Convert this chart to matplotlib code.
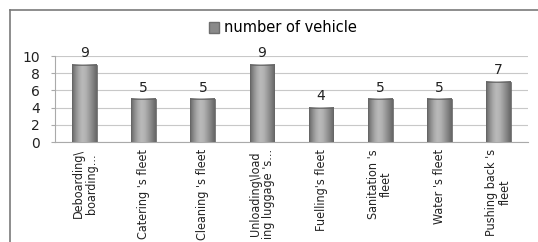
import matplotlib
matplotlib.use("Agg")
import matplotlib.pyplot as plt
import numpy as np
from matplotlib.lines import Line2D
from matplotlib.patches import Rectangle

# Chart data
categories = [
    "Deboarding\\\nboarding...",
    "Catering 's fleet",
    "Cleaning 's fleet",
    "Unloading\\load\ning luggage 's...",
    "Fuelling's fleet",
    "Sanitation 's\nfleet",
    "Water 's fleet",
    "Pushing back 's\nfleet",
]
vehicles = [9, 5, 5, 9, 4, 5, 5, 7]
y_ticks = [0, 2, 4, 6, 8, 10]
series_name = "number of vehicle"

fig = plt.figure(figsize=(5.38, 2.42), dpi=100)
ax = fig.add_axes([55 / 538, 1 - 142 / 242, 473 / 538, 86 / 242])

x = np.arange(len(categories))
bars = ax.bar(x, vehicles, width=0.42, color="#8a8a8a", zorder=2)

# horizontal shading to imitate the cylindrical bars
shade = np.array([0.40, 0.55, 0.67, 0.73, 0.69, 0.60, 0.50, 0.40])
grad = np.interp(np.linspace(0, 1, 64), np.linspace(0, 1, len(shade)), shade)
for bar in bars:
    bx, bw, bh = bar.get_x(), bar.get_width(), bar.get_height()
    ax.imshow(grad[None, :], cmap="gray", vmin=0, vmax=1, aspect="auto",
              extent=(bx, bx + bw, 0, bh), zorder=3, interpolation="bicubic")
    bar.set_visible(False)
    ax.add_patch(Rectangle((bx, 0), bw, bh, fill=False, edgecolor="#666666",
                           linewidth=0.6, zorder=4))
    ax.text(bx + bw / 2, bh + 0.5, f"{bh:g}", ha="center", va="bottom",
            fontsize=10, color="#222222")

ax.set_xlim(-0.5, len(categories) - 0.5)
ax.set_ylim(0, 10)
ax.set_yticks(y_ticks)
ax.tick_params(axis="y", labelsize=10, length=3, color="#aaaaaa", pad=8,
               labelcolor="#222222")
ax.set_xticks(x)
ax.set_xticklabels(categories, rotation=90, fontsize=9, fontstretch="condensed",
                   color="#222222", linespacing=1.0)
ax.tick_params(axis="x", length=0, pad=5)
ax.grid(axis="y", color="#c8c8c8", linewidth=0.8, zorder=0)
for side in ["top", "right"]:
    ax.spines[side].set_visible(False)
ax.spines["left"].set_color("#aaaaaa")
ax.spines["bottom"].set_color("#aaaaaa")

handle = Rectangle((0, 0), 1, 1, facecolor="#8a8a8a", edgecolor="#6e6e6e")
fig.legend([handle], [series_name], loc="center", bbox_to_anchor=(283 / 538, 1 - 28 / 242),
           frameon=False, fontsize=10.5, handlelength=0.7, handleheight=0.7,
           handletextpad=0.3)

# outer frame (top and left edges visible in the picture)
fig.add_artist(Line2D([10 / 538, 1.0], [1 - 10 / 242] * 2, color="#7a7a7a", linewidth=1.2))
fig.add_artist(Line2D([10 / 538] * 2, [0.0, 1 - 10 / 242], color="#7a7a7a", linewidth=1.2))

fig.savefig("out.png", dpi=100, facecolor="white")
